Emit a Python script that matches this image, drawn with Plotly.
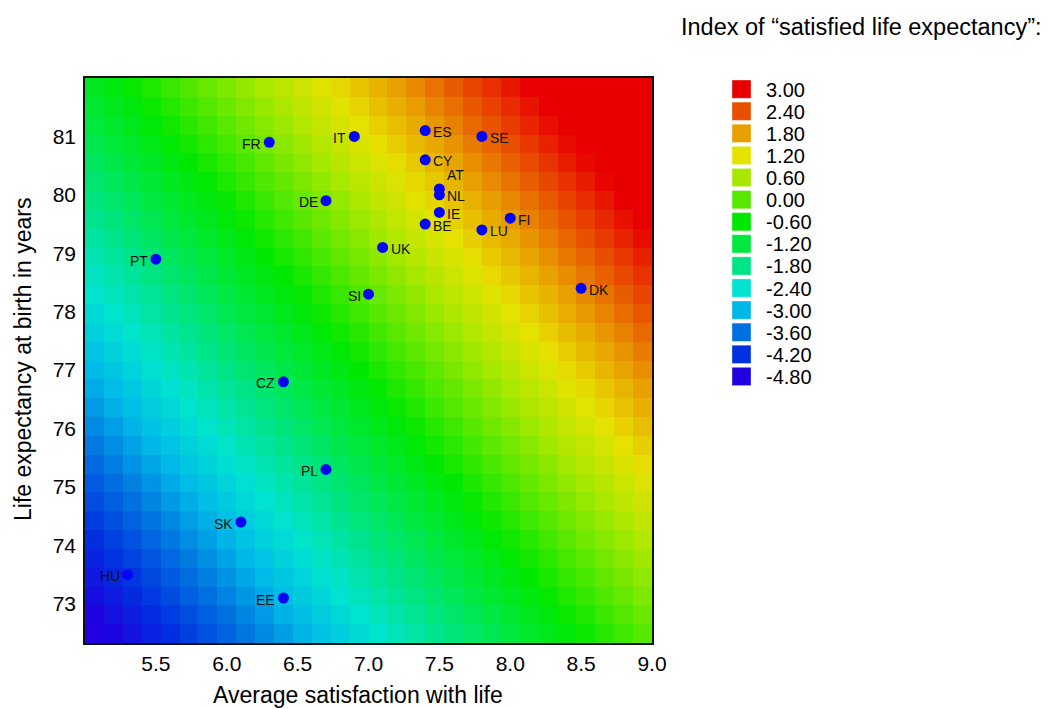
import numpy as np
import plotly.graph_objects as go

# ---------------- data ----------------
countries = ["FR", "IT", "ES", "SE", "CY", "AT", "NL", "IE", "BE", "LU", "FI",
             "UK", "DK", "DE", "PT", "SI", "CZ", "PL", "SK", "HU", "EE"]
satisfaction = [6.3, 6.9, 7.4, 7.8, 7.4, 7.5, 7.5, 7.5, 7.4, 7.8, 8.0,
                7.1, 8.5, 6.7, 5.5, 7.0, 6.4, 6.7, 6.1, 5.3, 6.4]
life_expectancy = [80.9, 81.0, 81.1, 81.0, 80.6, 80.1, 80.0, 79.7, 79.5, 79.4, 79.6,
                   79.1, 78.4, 79.9, 78.9, 78.3, 76.8, 75.3, 74.4, 73.5, 73.1]
label_side = ["left", "left", "right", "right", "right", "topright", "right", "right",
              "right", "right", "right", "right", "right", "left", "left", "left",
              "left", "left", "left", "left", "left"]

legend_levels = [3.00, 2.40, 1.80, 1.20, 0.60, 0.00, -0.60, -1.20, -1.80,
                 -2.40, -3.00, -3.60, -4.20, -4.80]
legend_colors = ["rgb(232,0,0)", "rgb(232,80,0)", "rgb(232,160,0)", "rgb(230,226,0)",
                 "rgb(168,232,0)", "rgb(88,232,0)", "rgb(0,232,0)", "rgb(0,232,64)",
                 "rgb(0,228,136)", "rgb(0,228,208)", "rgb(0,184,232)", "rgb(0,112,224)",
                 "rgb(0,48,224)", "rgb(32,0,224)"]

x_ticks = [5.5, 6.0, 6.5, 7.0, 7.5, 8.0, 8.5, 9.0]
y_ticks = [73, 74, 75, 76, 77, 78, 79, 80, 81]

# grid of the index surface (rows bottom -> top, columns left -> right)
index_grid = [
    [-4.90, -4.73, -4.56, -4.39, -4.22, -4.05, -3.89, -3.72, -3.55, -3.38, -3.21, -3.04, -2.87, -2.70, -2.53, -2.36, -2.20, -2.03, -1.86, -1.69, -1.52, -1.35, -1.18, -1.01, -0.84, -0.67, -0.51, -0.34, -0.17, 0.00],
    [-4.76, -4.59, -4.42, -4.25, -4.08, -3.91, -3.75, -3.58, -3.41, -3.24, -3.07, -2.90, -2.73, -2.56, -2.39, -2.22, -2.06, -1.89, -1.72, -1.55, -1.38, -1.21, -1.04, -0.87, -0.70, -0.53, -0.37, -0.20, -0.03, 0.14],
    [-4.62, -4.45, -4.28, -4.11, -3.94, -3.77, -3.61, -3.44, -3.27, -3.10, -2.93, -2.76, -2.59, -2.42, -2.25, -2.08, -1.92, -1.75, -1.58, -1.41, -1.24, -1.07, -0.90, -0.73, -0.56, -0.39, -0.23, -0.06, 0.11, 0.28],
    [-4.49, -4.32, -4.15, -3.98, -3.81, -3.64, -3.48, -3.31, -3.14, -2.97, -2.80, -2.63, -2.46, -2.29, -2.12, -1.95, -1.79, -1.62, -1.45, -1.28, -1.11, -0.94, -0.77, -0.60, -0.43, -0.26, -0.10, 0.07, 0.24, 0.41],
    [-4.35, -4.18, -4.01, -3.84, -3.67, -3.50, -3.34, -3.17, -3.00, -2.83, -2.66, -2.49, -2.32, -2.15, -1.98, -1.81, -1.65, -1.48, -1.31, -1.14, -0.97, -0.80, -0.63, -0.46, -0.29, -0.12, 0.04, 0.21, 0.38, 0.55],
    [-4.21, -4.04, -3.87, -3.70, -3.53, -3.36, -3.20, -3.03, -2.86, -2.69, -2.52, -2.35, -2.18, -2.01, -1.84, -1.67, -1.51, -1.34, -1.17, -1.00, -0.83, -0.66, -0.49, -0.32, -0.15, 0.02, 0.18, 0.35, 0.52, 0.69],
    [-4.07, -3.90, -3.73, -3.56, -3.39, -3.22, -3.06, -2.89, -2.72, -2.55, -2.38, -2.21, -2.04, -1.87, -1.70, -1.53, -1.37, -1.20, -1.03, -0.86, -0.69, -0.52, -0.35, -0.18, -0.01, 0.16, 0.32, 0.49, 0.66, 0.83],
    [-3.93, -3.76, -3.59, -3.42, -3.25, -3.08, -2.92, -2.75, -2.58, -2.41, -2.24, -2.07, -1.90, -1.73, -1.56, -1.39, -1.23, -1.06, -0.89, -0.72, -0.55, -0.38, -0.21, -0.04, 0.13, 0.30, 0.46, 0.63, 0.80, 0.97],
    [-3.80, -3.63, -3.46, -3.29, -3.12, -2.95, -2.79, -2.62, -2.45, -2.28, -2.11, -1.94, -1.77, -1.60, -1.43, -1.26, -1.10, -0.93, -0.76, -0.59, -0.42, -0.25, -0.08, 0.09, 0.26, 0.43, 0.59, 0.76, 0.93, 1.10],
    [-3.66, -3.49, -3.32, -3.15, -2.98, -2.81, -2.65, -2.48, -2.31, -2.14, -1.97, -1.80, -1.63, -1.46, -1.29, -1.12, -0.96, -0.79, -0.62, -0.45, -0.28, -0.11, 0.06, 0.23, 0.40, 0.57, 0.73, 0.90, 1.07, 1.24],
    [-3.52, -3.35, -3.18, -3.01, -2.84, -2.67, -2.51, -2.34, -2.17, -2.00, -1.83, -1.66, -1.49, -1.32, -1.15, -0.98, -0.82, -0.65, -0.48, -0.31, -0.14, 0.03, 0.20, 0.37, 0.54, 0.71, 0.87, 1.04, 1.21, 1.38],
    [-3.38, -3.21, -3.04, -2.87, -2.70, -2.53, -2.37, -2.20, -2.03, -1.86, -1.69, -1.52, -1.35, -1.18, -1.01, -0.84, -0.68, -0.51, -0.34, -0.17, 0.00, 0.17, 0.34, 0.51, 0.68, 0.85, 1.01, 1.18, 1.35, 1.52],
    [-3.24, -3.07, -2.90, -2.73, -2.56, -2.39, -2.23, -2.06, -1.89, -1.72, -1.55, -1.38, -1.21, -1.04, -0.87, -0.70, -0.54, -0.37, -0.20, -0.03, 0.14, 0.31, 0.48, 0.65, 0.82, 0.99, 1.15, 1.32, 1.49, 1.66],
    [-3.11, -2.94, -2.77, -2.60, -2.43, -2.26, -2.10, -1.93, -1.76, -1.59, -1.42, -1.25, -1.08, -0.91, -0.74, -0.57, -0.41, -0.24, -0.07, 0.10, 0.27, 0.44, 0.61, 0.78, 0.95, 1.12, 1.28, 1.45, 1.62, 1.79],
    [-2.97, -2.80, -2.63, -2.46, -2.29, -2.12, -1.96, -1.79, -1.62, -1.45, -1.28, -1.11, -0.94, -0.77, -0.60, -0.43, -0.27, -0.10, 0.07, 0.24, 0.41, 0.58, 0.75, 0.92, 1.09, 1.26, 1.42, 1.59, 1.76, 1.93],
    [-2.83, -2.66, -2.49, -2.32, -2.15, -1.98, -1.82, -1.65, -1.48, -1.31, -1.14, -0.97, -0.80, -0.63, -0.46, -0.29, -0.13, 0.04, 0.21, 0.38, 0.55, 0.72, 0.89, 1.06, 1.23, 1.40, 1.56, 1.73, 1.90, 2.07],
    [-2.69, -2.52, -2.35, -2.18, -2.01, -1.84, -1.68, -1.51, -1.34, -1.17, -1.00, -0.83, -0.66, -0.49, -0.32, -0.15, 0.01, 0.18, 0.35, 0.52, 0.69, 0.86, 1.03, 1.20, 1.37, 1.54, 1.70, 1.87, 2.04, 2.21],
    [-2.55, -2.38, -2.21, -2.04, -1.87, -1.70, -1.54, -1.37, -1.20, -1.03, -0.86, -0.69, -0.52, -0.35, -0.18, -0.01, 0.15, 0.32, 0.49, 0.66, 0.83, 1.00, 1.17, 1.34, 1.51, 1.68, 1.84, 2.01, 2.18, 2.35],
    [-2.42, -2.25, -2.08, -1.91, -1.74, -1.57, -1.41, -1.24, -1.07, -0.90, -0.73, -0.56, -0.39, -0.22, -0.05, 0.12, 0.28, 0.45, 0.62, 0.79, 0.96, 1.13, 1.30, 1.47, 1.64, 1.81, 1.97, 2.14, 2.31, 2.48],
    [-2.28, -2.11, -1.94, -1.77, -1.60, -1.43, -1.27, -1.10, -0.93, -0.76, -0.59, -0.42, -0.25, -0.08, 0.09, 0.26, 0.42, 0.59, 0.76, 0.93, 1.10, 1.27, 1.44, 1.61, 1.78, 1.95, 2.11, 2.28, 2.45, 2.62],
    [-2.14, -1.97, -1.80, -1.63, -1.46, -1.29, -1.13, -0.96, -0.79, -0.62, -0.45, -0.28, -0.11, 0.06, 0.23, 0.40, 0.56, 0.73, 0.90, 1.07, 1.24, 1.41, 1.58, 1.75, 1.92, 2.09, 2.25, 2.42, 2.59, 2.76],
    [-2.00, -1.83, -1.66, -1.49, -1.32, -1.15, -0.99, -0.82, -0.65, -0.48, -0.31, -0.14, 0.03, 0.20, 0.37, 0.54, 0.70, 0.87, 1.04, 1.21, 1.38, 1.55, 1.72, 1.89, 2.06, 2.23, 2.39, 2.56, 2.73, 2.90],
    [-1.86, -1.69, -1.52, -1.35, -1.18, -1.01, -0.85, -0.68, -0.51, -0.34, -0.17, 0.00, 0.17, 0.34, 0.51, 0.68, 0.84, 1.01, 1.18, 1.35, 1.52, 1.69, 1.86, 2.03, 2.20, 2.37, 2.53, 2.70, 2.87, 3.04],
    [-1.73, -1.56, -1.39, -1.22, -1.05, -0.88, -0.72, -0.55, -0.38, -0.21, -0.04, 0.13, 0.30, 0.47, 0.64, 0.81, 0.97, 1.14, 1.31, 1.48, 1.65, 1.82, 1.99, 2.16, 2.33, 2.50, 2.66, 2.83, 3.00, 3.17],
    [-1.59, -1.42, -1.25, -1.08, -0.91, -0.74, -0.58, -0.41, -0.24, -0.07, 0.10, 0.27, 0.44, 0.61, 0.78, 0.95, 1.11, 1.28, 1.45, 1.62, 1.79, 1.96, 2.13, 2.30, 2.47, 2.64, 2.80, 2.97, 3.14, 3.31],
    [-1.45, -1.28, -1.11, -0.94, -0.77, -0.60, -0.44, -0.27, -0.10, 0.07, 0.24, 0.41, 0.58, 0.75, 0.92, 1.09, 1.25, 1.42, 1.59, 1.76, 1.93, 2.10, 2.27, 2.44, 2.61, 2.78, 2.94, 3.11, 3.28, 3.45],
    [-1.31, -1.14, -0.97, -0.80, -0.63, -0.46, -0.30, -0.13, 0.04, 0.21, 0.38, 0.55, 0.72, 0.89, 1.06, 1.23, 1.39, 1.56, 1.73, 1.90, 2.07, 2.24, 2.41, 2.58, 2.75, 2.92, 3.08, 3.25, 3.42, 3.59],
    [-1.17, -1.00, -0.83, -0.66, -0.49, -0.32, -0.16, 0.01, 0.18, 0.35, 0.52, 0.69, 0.86, 1.03, 1.20, 1.37, 1.53, 1.70, 1.87, 2.04, 2.21, 2.38, 2.55, 2.72, 2.89, 3.06, 3.22, 3.39, 3.56, 3.73],
    [-1.04, -0.87, -0.70, -0.53, -0.36, -0.19, -0.03, 0.14, 0.31, 0.48, 0.65, 0.82, 0.99, 1.16, 1.33, 1.50, 1.66, 1.83, 2.00, 2.17, 2.34, 2.51, 2.68, 2.85, 3.02, 3.19, 3.35, 3.52, 3.69, 3.86],
    [-0.90, -0.73, -0.56, -0.39, -0.22, -0.05, 0.11, 0.28, 0.45, 0.62, 0.79, 0.96, 1.13, 1.30, 1.47, 1.64, 1.80, 1.97, 2.14, 2.31, 2.48, 2.65, 2.82, 2.99, 3.16, 3.33, 3.49, 3.66, 3.83, 4.00],
]

# ---------------- geometry / style ----------------
X_MIN, X_MAX = 5.0, 9.0
Y_MIN, Y_MAX = 72.33, 82.0
W, H = 1050, 709
M_L, M_R, M_T, M_B = 85, 398, 78, 66
PLOT_W = W - M_L - M_R
PLOT_H = H - M_T - M_B
FONT = "Liberation Sans, Arial, sans-serif"

n_rows = len(index_grid)
n_cols = len(index_grid[0])
x_edges = np.linspace(X_MIN, X_MAX, n_cols + 1)
y_edges = np.linspace(Y_MIN, Y_MAX, n_rows + 1)

zmin, zmax = min(legend_levels), max(legend_levels)
pairs = sorted(zip(legend_levels, legend_colors))
colorscale = [[(v - zmin) / (zmax - zmin), c] for v, c in pairs]

fig = go.Figure()
fig.add_trace(go.Heatmap(
    x=x_edges, y=y_edges, z=index_grid,
    colorscale=colorscale, zmin=zmin, zmax=zmax,
    showscale=False, hoverinfo="skip",
))
fig.add_trace(go.Scatter(
    x=satisfaction, y=life_expectancy, mode="markers",
    marker=dict(size=11, color="rgb(5,5,245)", line=dict(width=0)),
    text=countries, hoverinfo="text", showlegend=False,
))

annotations = []
for name, xv, yv, side in zip(countries, satisfaction, life_expectancy, label_side):
    if side == "left":
        xa, xs, ys = "right", -6, -1.5
    elif side == "right":
        xa, xs, ys = "left", 6, -1.5
    else:
        xa, xs, ys = "left", 6, 14
    annotations.append(dict(
        x=xv, y=yv, xref="x", yref="y", text=name, showarrow=False,
        xanchor=xa, yanchor="middle", xshift=xs, yshift=ys,
        font=dict(family=FONT, size=14, color="#111111"),
    ))

def px_to_paper_x(px):
    return (px - M_L) / PLOT_W

def px_to_paper_y(py):
    return (H - M_B - py) / PLOT_H

# legend title
annotations.append(dict(
    x=px_to_paper_x(679), y=px_to_paper_y(27), xref="paper", yref="paper",
    text="Index of \u201csatisfied life expectancy\u201d:", showarrow=False,
    xanchor="left", yanchor="middle",
    font=dict(family=FONT, size=23.5, color="black"),
))

shapes = []
SW_X0, SW_X1 = 732, 751
SW_TOP, SW_H, SW_STEP = 80, 18.3, 22.1
for i, (lev, col) in enumerate(zip(legend_levels, legend_colors)):
    top = SW_TOP + i * SW_STEP
    shapes.append(dict(
        type="rect", xref="paper", yref="paper",
        x0=px_to_paper_x(SW_X0), x1=px_to_paper_x(SW_X1),
        y0=px_to_paper_y(top + SW_H), y1=px_to_paper_y(top),
        fillcolor=col, line=dict(width=0.6, color="rgba(255,255,255,0.6)"),
    ))
    annotations.append(dict(
        x=px_to_paper_x(766), y=px_to_paper_y(top + SW_H / 2 + 0.5),
        xref="paper", yref="paper", text=f"{lev:.2f}", showarrow=False,
        xanchor="left", yanchor="middle", borderpad=0, borderwidth=0,
        font=dict(family=FONT, size=20, color="black"),
    ))

# axis titles
annotations.append(dict(
    x=px_to_paper_x(358), y=px_to_paper_y(695), xref="paper", yref="paper",
    text="Average satisfaction with life", showarrow=False,
    xanchor="center", yanchor="middle",
    font=dict(family=FONT, size=23, color="black"),
))
annotations.append(dict(
    x=px_to_paper_x(23), y=px_to_paper_y(360), xref="paper", yref="paper",
    text="Life expectancy at birth in years", showarrow=False, textangle=-90,
    xanchor="center", yanchor="middle",
    font=dict(family=FONT, size=23, color="black"),
))

fig.update_layout(
    width=W, height=H, autosize=False,
    margin=dict(l=M_L, r=M_R, t=M_T, b=M_B, pad=0),
    paper_bgcolor="white", plot_bgcolor="white",
    font=dict(family=FONT, color="black"),
    showlegend=False,
    annotations=annotations, shapes=shapes,
    xaxis=dict(
        range=[X_MIN, X_MAX], tickvals=x_ticks,
        ticktext=[f"{v:.1f}" for v in x_ticks],
        showgrid=False, zeroline=False,
        showline=True, mirror=True, linecolor="#111111", linewidth=1.6,
        ticks="outside", ticklen=1, tickcolor="rgba(0,0,0,0)",
        tickfont=dict(family=FONT, size=21, color="black"),
    ),
    yaxis=dict(
        range=[Y_MIN, Y_MAX], tickvals=y_ticks,
        ticktext=[str(v) for v in y_ticks],
        showgrid=False, zeroline=False,
        showline=True, mirror=True, linecolor="#111111", linewidth=1.6,
        ticks="outside", ticklen=3, tickcolor="rgba(0,0,0,0)",
        tickfont=dict(family=FONT, size=21, color="black"),
    ),
)

fig.write_html(
    "out.html",
    config={"displayModeBar": False},
    post_script="document.body.style.margin='0';document.body.style.overflow='hidden';",
)
